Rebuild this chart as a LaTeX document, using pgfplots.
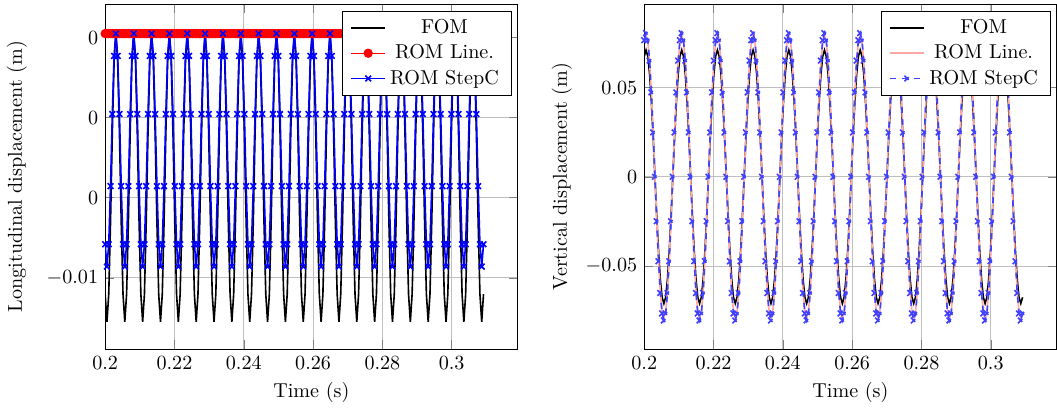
\documentclass[border=0pt]{standalone}
\usepackage{pgfplots}
\usepackage{pgfplotstable}
\pgfplotsset{compat=1.18}
\pgfplotstableread{
t wF wL wS uF uS r
0.200000 0.06753 0.07561 0.07656 -0.01085 -0.00877 0
0.200515 0.07100 0.07950 0.08050 -0.01200 -0.00970 0
0.201030 0.06753 0.07561 0.07656 -0.01085 -0.00877 0
0.201545 0.05744 0.06432 0.06512 -0.00785 -0.00635 0
0.202060 0.04173 0.04673 0.04732 -0.00415 -0.00335 0
0.202575 0.02194 0.02457 0.02487 -0.00115 -0.00093 0
0.203090 0 0 0 0 0 0
0.203605 -0.02194 -0.02457 -0.02487 -0.00115 -0.00093 0
0.204120 -0.04173 -0.04673 -0.04732 -0.00415 -0.00335 0
0.204635 -0.05744 -0.06432 -0.06512 -0.00785 -0.00635 0
0.205150 -0.06753 -0.07561 -0.07656 -0.01085 -0.00877 0
0.205665 -0.07100 -0.07950 -0.08050 -0.01200 -0.00970 0
0.206180 -0.06753 -0.07561 -0.07656 -0.01085 -0.00877 0
0.206695 -0.05744 -0.06432 -0.06512 -0.00785 -0.00635 0
0.207210 -0.04173 -0.04673 -0.04732 -0.00415 -0.00335 0
0.207725 -0.02194 -0.02457 -0.02487 -0.00115 -0.00093 0
0.208240 0 0 0 0 0 0
0.208755 0.02194 0.02457 0.02487 -0.00115 -0.00093 0
0.209270 0.04173 0.04673 0.04732 -0.00415 -0.00335 0
0.209785 0.05744 0.06432 0.06512 -0.00785 -0.00635 0
0.210300 0.06753 0.07561 0.07656 -0.01085 -0.00877 0
0.210815 0.07100 0.07950 0.08050 -0.01200 -0.00970 0
0.211330 0.06753 0.07561 0.07656 -0.01085 -0.00877 0
0.211845 0.05744 0.06432 0.06512 -0.00785 -0.00635 0
0.212360 0.04173 0.04673 0.04732 -0.00415 -0.00335 0
0.212875 0.02194 0.02457 0.02487 -0.00115 -0.00093 0
0.213390 0 0 0 0 0 0
0.213905 -0.02194 -0.02457 -0.02487 -0.00115 -0.00093 0
0.214420 -0.04173 -0.04673 -0.04732 -0.00415 -0.00335 0
0.214935 -0.05744 -0.06432 -0.06512 -0.00785 -0.00635 0
0.215450 -0.06753 -0.07561 -0.07656 -0.01085 -0.00877 0
0.215965 -0.07100 -0.07950 -0.08050 -0.01200 -0.00970 0
0.216480 -0.06753 -0.07561 -0.07656 -0.01085 -0.00877 0
0.216995 -0.05744 -0.06432 -0.06512 -0.00785 -0.00635 0
0.217510 -0.04173 -0.04673 -0.04732 -0.00415 -0.00335 0
0.218025 -0.02194 -0.02457 -0.02487 -0.00115 -0.00093 0
0.218540 0 0 0 0 0 0
0.219055 0.02194 0.02457 0.02487 -0.00115 -0.00093 0
0.219570 0.04173 0.04673 0.04732 -0.00415 -0.00335 0
0.220085 0.05744 0.06432 0.06512 -0.00785 -0.00635 0
0.220600 0.06753 0.07561 0.07656 -0.01085 -0.00877 0
0.221115 0.07100 0.07950 0.08050 -0.01200 -0.00970 0
0.221630 0.06753 0.07561 0.07656 -0.01085 -0.00877 0
0.222145 0.05744 0.06432 0.06512 -0.00785 -0.00635 0
0.222660 0.04173 0.04673 0.04732 -0.00415 -0.00335 0
0.223175 0.02194 0.02457 0.02487 -0.00115 -0.00093 0
0.223690 0 0 0 0 0 0
0.224205 -0.02194 -0.02457 -0.02487 -0.00115 -0.00093 0
0.224720 -0.04173 -0.04673 -0.04732 -0.00415 -0.00335 0
0.225235 -0.05744 -0.06432 -0.06512 -0.00785 -0.00635 0
0.225750 -0.06753 -0.07561 -0.07656 -0.01085 -0.00877 0
0.226265 -0.07100 -0.07950 -0.08050 -0.01200 -0.00970 0
0.226780 -0.06753 -0.07561 -0.07656 -0.01085 -0.00877 0
0.227295 -0.05744 -0.06432 -0.06512 -0.00785 -0.00635 0
0.227810 -0.04173 -0.04673 -0.04732 -0.00415 -0.00335 0
0.228325 -0.02194 -0.02457 -0.02487 -0.00115 -0.00093 0
0.228840 0 0 0 0 0 0
0.229355 0.02194 0.02457 0.02487 -0.00115 -0.00093 0
0.229870 0.04173 0.04673 0.04732 -0.00415 -0.00335 0
0.230385 0.05744 0.06432 0.06512 -0.00785 -0.00635 0
0.230900 0.06753 0.07561 0.07656 -0.01085 -0.00877 0
0.231415 0.07100 0.07950 0.08050 -0.01200 -0.00970 0
0.231930 0.06753 0.07561 0.07656 -0.01085 -0.00877 0
0.232445 0.05744 0.06432 0.06512 -0.00785 -0.00635 0
0.232960 0.04173 0.04673 0.04732 -0.00415 -0.00335 0
0.233475 0.02194 0.02457 0.02487 -0.00115 -0.00093 0
0.233990 0 0 0 0 0 0
0.234505 -0.02194 -0.02457 -0.02487 -0.00115 -0.00093 0
0.235020 -0.04173 -0.04673 -0.04732 -0.00415 -0.00335 0
0.235535 -0.05744 -0.06432 -0.06512 -0.00785 -0.00635 0
0.236050 -0.06753 -0.07561 -0.07656 -0.01085 -0.00877 0
0.236565 -0.07100 -0.07950 -0.08050 -0.01200 -0.00970 0
0.237080 -0.06753 -0.07561 -0.07656 -0.01085 -0.00877 0
0.237595 -0.05744 -0.06432 -0.06512 -0.00785 -0.00635 0
0.238110 -0.04173 -0.04673 -0.04732 -0.00415 -0.00335 0
0.238625 -0.02194 -0.02457 -0.02487 -0.00115 -0.00093 0
0.239140 0 0 0 0 0 0
0.239655 0.02194 0.02457 0.02487 -0.00115 -0.00093 0
0.240170 0.04173 0.04673 0.04732 -0.00415 -0.00335 0
0.240685 0.05744 0.06432 0.06512 -0.00785 -0.00635 0
0.241200 0.06753 0.07561 0.07656 -0.01085 -0.00877 0
0.241715 0.07100 0.07950 0.08050 -0.01200 -0.00970 0
0.242230 0.06753 0.07561 0.07656 -0.01085 -0.00877 0
0.242745 0.05744 0.06432 0.06512 -0.00785 -0.00635 0
0.243260 0.04173 0.04673 0.04732 -0.00415 -0.00335 0
0.243775 0.02194 0.02457 0.02487 -0.00115 -0.00093 0
0.244290 0 0 0 0 0 0
0.244805 -0.02194 -0.02457 -0.02487 -0.00115 -0.00093 0
0.245320 -0.04173 -0.04673 -0.04732 -0.00415 -0.00335 0
0.245835 -0.05744 -0.06432 -0.06512 -0.00785 -0.00635 0
0.246350 -0.06753 -0.07561 -0.07656 -0.01085 -0.00877 0
0.246865 -0.07100 -0.07950 -0.08050 -0.01200 -0.00970 0
0.247380 -0.06753 -0.07561 -0.07656 -0.01085 -0.00877 0
0.247895 -0.05744 -0.06432 -0.06512 -0.00785 -0.00635 0
0.248410 -0.04173 -0.04673 -0.04732 -0.00415 -0.00335 0
0.248925 -0.02194 -0.02457 -0.02487 -0.00115 -0.00093 0
0.249440 0 0 0 0 0 0
0.249955 0.02194 0.02457 0.02487 -0.00115 -0.00093 0
0.250470 0.04173 0.04673 0.04732 -0.00415 -0.00335 0
0.250985 0.05744 0.06432 0.06512 -0.00785 -0.00635 0
0.251500 0.06753 0.07561 0.07656 -0.01085 -0.00877 0
0.252015 0.07100 0.07950 0.08050 -0.01200 -0.00970 0
0.252530 0.06753 0.07561 0.07656 -0.01085 -0.00877 0
0.253045 0.05744 0.06432 0.06512 -0.00785 -0.00635 0
0.253560 0.04173 0.04673 0.04732 -0.00415 -0.00335 0
0.254075 0.02194 0.02457 0.02487 -0.00115 -0.00093 0
0.254590 0 0 0 0 0 0
0.255105 -0.02194 -0.02457 -0.02487 -0.00115 -0.00093 0
0.255620 -0.04173 -0.04673 -0.04732 -0.00415 -0.00335 0
0.256135 -0.05744 -0.06432 -0.06512 -0.00785 -0.00635 0
0.256650 -0.06753 -0.07561 -0.07656 -0.01085 -0.00877 0
0.257165 -0.07100 -0.07950 -0.08050 -0.01200 -0.00970 0
0.257680 -0.06753 -0.07561 -0.07656 -0.01085 -0.00877 0
0.258195 -0.05744 -0.06432 -0.06512 -0.00785 -0.00635 0
0.258710 -0.04173 -0.04673 -0.04732 -0.00415 -0.00335 0
0.259225 -0.02194 -0.02457 -0.02487 -0.00115 -0.00093 0
0.259740 0 0 0 0 0 0
0.260255 0.02194 0.02457 0.02487 -0.00115 -0.00093 0
0.260770 0.04173 0.04673 0.04732 -0.00415 -0.00335 0
0.261285 0.05744 0.06432 0.06512 -0.00785 -0.00635 0
0.261800 0.06753 0.07561 0.07656 -0.01085 -0.00877 0
0.262315 0.07100 0.07950 0.08050 -0.01200 -0.00970 0
0.262830 0.06753 0.07561 0.07656 -0.01085 -0.00877 0
0.263345 0.05744 0.06432 0.06512 -0.00785 -0.00635 0
0.263860 0.04173 0.04673 0.04732 -0.00415 -0.00335 0
0.264375 0.02194 0.02457 0.02487 -0.00115 -0.00093 0
0.264890 0 0 0 0 0 0
0.265405 -0.02194 -0.02457 -0.02487 -0.00115 -0.00093 0
0.265920 -0.04173 -0.04673 -0.04732 -0.00415 -0.00335 0
0.266435 -0.05744 -0.06432 -0.06512 -0.00785 -0.00635 0
0.266950 -0.06753 -0.07561 -0.07656 -0.01085 -0.00877 0
0.267465 -0.07100 -0.07950 -0.08050 -0.01200 -0.00970 0
0.267980 -0.06753 -0.07561 -0.07656 -0.01085 -0.00877 0
0.268495 -0.05744 -0.06432 -0.06512 -0.00785 -0.00635 0
0.269010 -0.04173 -0.04673 -0.04732 -0.00415 -0.00335 0
0.269525 -0.02194 -0.02457 -0.02487 -0.00115 -0.00093 0
0.270040 0 0 0 0 0 0
0.270555 0.02194 0.02457 0.02487 -0.00115 -0.00093 0
0.271070 0.04173 0.04673 0.04732 -0.00415 -0.00335 0
0.271585 0.05744 0.06432 0.06512 -0.00785 -0.00635 0
0.272100 0.06753 0.07561 0.07656 -0.01085 -0.00877 0
0.272615 0.07100 0.07950 0.08050 -0.01200 -0.00970 0
0.273130 0.06753 0.07561 0.07656 -0.01085 -0.00877 0
0.273645 0.05744 0.06432 0.06512 -0.00785 -0.00635 0
0.274160 0.04173 0.04673 0.04732 -0.00415 -0.00335 0
0.274675 0.02194 0.02457 0.02487 -0.00115 -0.00093 0
0.275190 0 0 0 0 0 0
0.275705 -0.02194 -0.02457 -0.02487 -0.00115 -0.00093 0
0.276220 -0.04173 -0.04673 -0.04732 -0.00415 -0.00335 0
0.276735 -0.05744 -0.06432 -0.06512 -0.00785 -0.00635 0
0.277250 -0.06753 -0.07561 -0.07656 -0.01085 -0.00877 0
0.277765 -0.07100 -0.07950 -0.08050 -0.01200 -0.00970 0
0.278280 -0.06753 -0.07561 -0.07656 -0.01085 -0.00877 0
0.278795 -0.05744 -0.06432 -0.06512 -0.00785 -0.00635 0
0.279310 -0.04173 -0.04673 -0.04732 -0.00415 -0.00335 0
0.279825 -0.02194 -0.02457 -0.02487 -0.00115 -0.00093 0
0.280340 0 0 0 0 0 0
0.280855 0.02194 0.02457 0.02487 -0.00115 -0.00093 0
0.281370 0.04173 0.04673 0.04732 -0.00415 -0.00335 0
0.281885 0.05744 0.06432 0.06512 -0.00785 -0.00635 0
0.282400 0.06753 0.07561 0.07656 -0.01085 -0.00877 0
0.282915 0.07100 0.07950 0.08050 -0.01200 -0.00970 0
0.283430 0.06753 0.07561 0.07656 -0.01085 -0.00877 0
0.283945 0.05744 0.06432 0.06512 -0.00785 -0.00635 0
0.284460 0.04173 0.04673 0.04732 -0.00415 -0.00335 0
0.284975 0.02194 0.02457 0.02487 -0.00115 -0.00093 0
0.285490 0 0 0 0 0 0
0.286005 -0.02194 -0.02457 -0.02487 -0.00115 -0.00093 0
0.286520 -0.04173 -0.04673 -0.04732 -0.00415 -0.00335 0
0.287035 -0.05744 -0.06432 -0.06512 -0.00785 -0.00635 0
0.287550 -0.06753 -0.07561 -0.07656 -0.01085 -0.00877 0
0.288065 -0.07100 -0.07950 -0.08050 -0.01200 -0.00970 0
0.288580 -0.06753 -0.07561 -0.07656 -0.01085 -0.00877 0
0.289095 -0.05744 -0.06432 -0.06512 -0.00785 -0.00635 0
0.289610 -0.04173 -0.04673 -0.04732 -0.00415 -0.00335 0
0.290125 -0.02194 -0.02457 -0.02487 -0.00115 -0.00093 0
0.290640 0 0 0 0 0 0
0.291155 0.02194 0.02457 0.02487 -0.00115 -0.00093 0
0.291670 0.04173 0.04673 0.04732 -0.00415 -0.00335 0
0.292185 0.05744 0.06432 0.06512 -0.00785 -0.00635 0
0.292700 0.06753 0.07561 0.07656 -0.01085 -0.00877 0
0.293215 0.07100 0.07950 0.08050 -0.01200 -0.00970 0
0.293730 0.06753 0.07561 0.07656 -0.01085 -0.00877 0
0.294245 0.05744 0.06432 0.06512 -0.00785 -0.00635 0
0.294760 0.04173 0.04673 0.04732 -0.00415 -0.00335 0
0.295275 0.02194 0.02457 0.02487 -0.00115 -0.00093 0
0.295790 0 0 0 0 0 0
0.296305 -0.02194 -0.02457 -0.02487 -0.00115 -0.00093 0
0.296820 -0.04173 -0.04673 -0.04732 -0.00415 -0.00335 0
0.297335 -0.05744 -0.06432 -0.06512 -0.00785 -0.00635 0
0.297850 -0.06753 -0.07561 -0.07656 -0.01085 -0.00877 0
0.298365 -0.07100 -0.07950 -0.08050 -0.01200 -0.00970 0
0.298880 -0.06753 -0.07561 -0.07656 -0.01085 -0.00877 0
0.299395 -0.05744 -0.06432 -0.06512 -0.00785 -0.00635 0
0.299910 -0.04173 -0.04673 -0.04732 -0.00415 -0.00335 0
0.300425 -0.02194 -0.02457 -0.02487 -0.00115 -0.00093 0
0.300940 0 0 0 0 0 0
0.301455 0.02194 0.02457 0.02487 -0.00115 -0.00093 0
0.301970 0.04173 0.04673 0.04732 -0.00415 -0.00335 0
0.302485 0.05744 0.06432 0.06512 -0.00785 -0.00635 0
0.303000 0.06753 0.07561 0.07656 -0.01085 -0.00877 0
0.303515 0.07100 0.07950 0.08050 -0.01200 -0.00970 0
0.304030 0.06753 0.07561 0.07656 -0.01085 -0.00877 0
0.304545 0.05744 0.06432 0.06512 -0.00785 -0.00635 0
0.305060 0.04173 0.04673 0.04732 -0.00415 -0.00335 0
0.305575 0.02194 0.02457 0.02487 -0.00115 -0.00093 0
0.306090 0 0 0 0 0 0
0.306605 -0.02194 -0.02457 -0.02487 -0.00115 -0.00093 0
0.307120 -0.04173 -0.04673 -0.04732 -0.00415 -0.00335 0
0.307635 -0.05744 -0.06432 -0.06512 -0.00785 -0.00635 0
0.308150 -0.06753 -0.07561 -0.07656 -0.01085 -0.00877 0
0.308665 -0.07100 -0.07950 -0.08050 -0.01200 -0.00970 0
0.309180 -0.06753 -0.07561 -0.07656 -0.01085 -0.00877 0
}\datatab

\pgfplotsset{
  common/.style={
    scale only axis, width=205pt, height=171.5pt,
    xmin=0.2, xmax=0.319,
    xtick={0.2,0.22,0.24,0.26,0.28,0.3},
    scaled ticks=false,
    grid=major,
    xlabel={Time (s)},
    legend cell align=center,
    legend style={at={(0.985,0.98)}, anchor=north east, inner xsep=4pt},
  }
}

\begin{document}
\begin{tikzpicture}
\path (0,173.5pt) -- (0,172pt);
\begin{axis}[common,
  ymin=-0.01313, ymax=0.00123,
  ytick={-0.01017,-0.00683,-0.0035,-0.000168},
  yticklabels={$-0.01$,$0$,$0$,$0$},
  ylabel={Longitudinal displacement (m)},
  ylabel shift=3pt,
]
\addplot[black, thick] table[x=t, y=uF] {\datatab};
\addlegendentry{FOM}
\addplot[red, semithick, mark=*] table[x=t, y=r] {\datatab};
\addlegendentry{ROM Line.}
\addplot[blue, thick, mark=x] table[x=t, y=uS] {\datatab};
\addlegendentry{ROM StepC}
\end{axis}

\begin{axis}[common, at={(268pt,0)},
  ymin=-0.0965, ymax=0.0968,
  ytick={-0.05,0,0.05},
  yticklabel style={/pgf/number format/fixed},
  ylabel={Vertical displacement (m)},
]
\addplot[black, thick] table[x=t, y=wF] {\datatab};
\addlegendentry{FOM}
\addplot[red!35, thick] table[x=t, y=wL] {\datatab};
\addlegendentry{ROM Line.}
\addplot[blue!75, thick, dashed, mark=x] table[x=t, y=wS] {\datatab};
\addlegendentry{ROM StepC}
\end{axis}
\end{tikzpicture}
\end{document}
